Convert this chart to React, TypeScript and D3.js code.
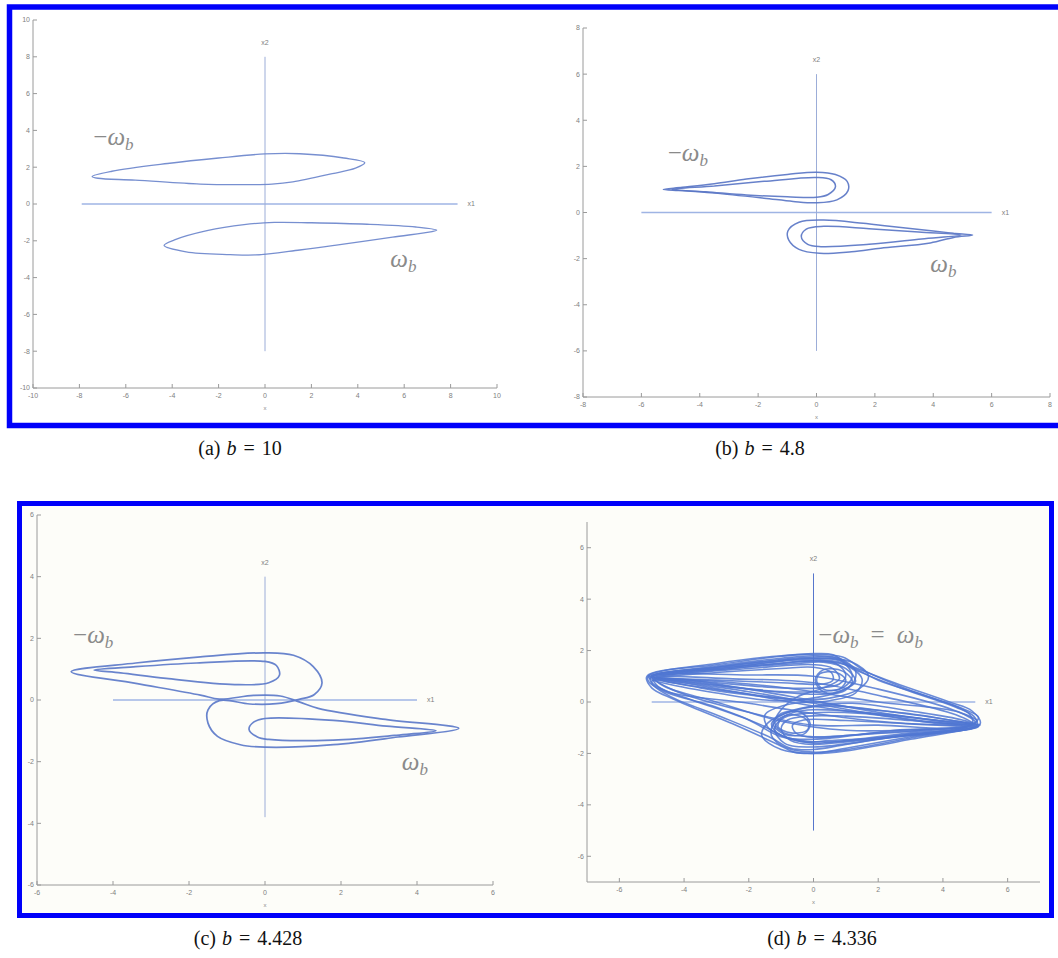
import React from "react";
import * as d3 from "d3";

type Pt = [number, number];

// ---- tick values ----
const ticksA = [-10, -8, -6, -4, -2, 0, 2, 4, 6, 8, 10];
const ticksB = [-8, -6, -4, -2, 0, 2, 4, 6, 8];
const ticksC = [-6, -4, -2, 0, 2, 4, 6];
const ticksD = [-6, -4, -2, 0, 2, 4, 6];

// ---- (a) b = 10 ----
const orbitA_neg: Pt[] = [
  [-7.45, 1.5], [-6.6, 1.78], [-4.2, 2.2], [-2, 2.5], [0, 2.72], [1.5, 2.73], [3.4, 2.5],
  [4.3, 2.25], [3.9, 1.95], [2.9, 1.65], [1.2, 1.2], [0.3, 1.08], [-1, 1.05], [-2.8, 1.08],
  [-5.6, 1.3], [-7.2, 1.4],
];
const orbitA_pos: Pt[] = [
  [7.4, -1.42], [6.5, -1.25], [4.4, -1.1], [2, -1.02], [0.4, -1.0], [-0.9, -1.12], [-2.5, -1.45],
  [-3.9, -1.95], [-4.35, -2.25], [-3.4, -2.6], [-1.5, -2.75], [-0.4, -2.77], [1.5, -2.5],
  [3.0, -2.25], [5.5, -1.8], [7.2, -1.5],
];

// ---- (b) b = 4.8 ----
const orbitB_negOuter: Pt[] = [
  [-5.25, 1.0], [-4.6, 1.09], [-3.5, 1.25], [-2.4, 1.45], [-1, 1.65], [0, 1.75], [0.65, 1.65],
  [1.05, 1.35], [1.08, 0.95], [0.7, 0.55], [0, 0.42], [-0.8, 0.48], [-1.8, 0.62], [-3.5, 0.84],
  [-4.6, 0.95],
];
const orbitB_negInner: Pt[] = [
  [-4.95, 1.0], [-3.5, 1.15], [-1.8, 1.35], [0, 1.52], [0.5, 1.42], [0.65, 1.12], [0.4, 0.78],
  [0, 0.66], [-1, 0.68], [-2.4, 0.76], [-3.8, 0.9],
];
const orbitB_posOuter: Pt[] = [
  [5.35, -0.98], [4.7, -0.9], [4, -0.8], [2.5, -0.6], [1.6, -0.47], [0.25, -0.33], [-0.6, -0.42],
  [-0.98, -0.8], [-0.95, -1.2], [-0.6, -1.6], [0.1, -1.77], [1.2, -1.7], [2.2, -1.55],
  [3.9, -1.32], [4.7, -1.08],
];
const orbitB_posInner: Pt[] = [
  [4.95, -0.98], [3.5, -0.85], [1.8, -0.7], [0.25, -0.6], [-0.35, -0.72], [-0.52, -1.05],
  [-0.3, -1.38], [0.15, -1.48], [1.8, -1.38], [3.6, -1.15],
];

// ---- (c) b = 4.428 ----
const orbitC_outer: Pt[] = [
  [-5.1, 0.92], [-3.4, 1.2], [-1.7, 1.4], [0, 1.53], [0.75, 1.45], [1.27, 1.08], [1.5, 0.55],
  [1.3, 0.18], [0.9, 0.02], [0.3, -0.12], [-0.4, -0.13], [-1.2, -0.02], [-1.5, -0.32],
  [-1.5, -0.75], [-1.25, -1.18], [-0.65, -1.45], [0, -1.53], [1.8, -1.45], [3.5, -1.2],
  [5.1, -0.92], [3.1, -0.62], [1.4, -0.27], [0.9, -0.06], [0.4, 0.13], [-0.3, 0.15],
  [-1.2, 0.03], [-1.7, 0.16], [-3.4, 0.54],
];
const orbitC_negInner: Pt[] = [
  [-4.5, 0.97], [-3.4, 1.08], [-1.8, 1.2], [0, 1.25], [0.3, 1.12], [0.38, 0.8], [0.1, 0.56],
  [-0.8, 0.5], [-2.6, 0.7], [-3.8, 0.88],
];
const orbitC_posInner: Pt[] = [
  [4.5, -1.0], [3.2, -0.85], [1.8, -0.66], [0, -0.6], [-0.3, -0.72], [-0.42, -0.95],
  [-0.2, -1.2], [0.1, -1.28], [1.8, -1.3], [3.4, -1.15],
];

// ---- (d) b = 4.336 (chaotic attractor, traced loop by loop) ----
const attractorD: Pt[][] = [
  [[-5.15, 1.0], [-3, 1.45], [-1, 1.78], [0, 1.88], [0.6, 1.84], [1.1, 1.45], [2.5, 0.75], [4.2, 0.0],
   [4.9, -0.35], [5.15, -0.85], [3, -1.35], [1, -1.8], [0, -2.0], [-0.6, -1.95], [-1.1, -1.65],
   [-2.5, -0.85], [-4.3, 0.1], [-5.0, 0.55]],
  [[-5.05, 0.95], [-3, 1.35], [-1, 1.65], [0, 1.75], [0.7, 1.7], [1.3, 1.25], [2.8, 0.5], [4.4, -0.2],
   [4.95, -0.55], [5.05, -0.9], [3, -1.25], [1, -1.65], [0, -1.85], [-0.7, -1.8], [-1.3, -1.4],
   [-2.8, -0.6], [-4.4, 0.2], [-4.95, 0.65]],
  [[-5.1, 1.02], [-3, 1.5], [-1, 1.8], [0, 1.85], [0.9, 1.75], [1.6, 1.2], [3, 0.45], [4.6, -0.25],
   [5.1, -0.6], [4.8, -0.95], [3, -1.2], [1, -1.5], [0, -1.6], [-0.8, -1.4], [-1.6, -0.9],
   [-3, -0.2], [-4.6, 0.4], [-5.1, 0.8]],
  [[-4.95, 0.98], [-2.5, 1.3], [0, 1.6], [1, 1.45], [2, 0.85], [3.8, 0.1], [4.8, -0.45],
   [4.9, -0.85], [2.5, -1.1], [0, -1.45], [-1, -1.35], [-2, -0.7], [-3.8, 0.1], [-4.8, 0.6]],
  [[-5.1, 1.0], [-3, 1.4], [-1, 1.7], [0, 1.8], [0.8, 1.7], [1.3, 1.2], [1.2, 0.7], [0.6, 0.35],
   [0, 0.3], [-2, 0.5], [-4, 0.8]],
  [[-5.0, 0.98], [-3, 1.3], [-1, 1.5], [0, 1.6], [0.7, 1.5], [1.0, 1.05], [0.8, 0.7], [0.2, 0.55],
   [-1, 0.55], [-3, 0.75], [-4.3, 0.9]],
  [[-4.8, 0.95], [-3, 1.15], [-1, 1.3], [0, 1.35], [0.55, 1.15], [0.6, 0.85], [0.3, 0.7],
   [-1, 0.75], [-3, 0.85]],
  [[-5.05, 0.9], [-3, 1.25], [-0.5, 1.5], [0.3, 1.55], [1.0, 1.3], [1.3, 0.8], [0.9, 0.45],
   [0.2, 0.2], [-1.2, 0.05], [-3, 0.35], [-4.5, 0.7]],
  [[-5.0, 1.0], [-2.5, 1.35], [0, 1.7], [0.9, 1.55], [1.2, 1.0], [0.9, 0.55], [0, 0.4],
   [-1.5, 0.45], [-3.5, 0.75]],
  [[-5.1, 0.95], [-3, 1.35], [-1, 1.62], [0, 1.7], [1.2, 1.55], [1.7, 1.0], [1.4, 0.5],
   [0.5, 0.15], [-0.5, 0.1], [-2.5, 0.4], [-4.2, 0.72]],
  [[5.15, -0.9], [3, -1.4], [1, -1.85], [0, -1.95], [-0.8, -1.8], [-1.3, -1.3], [-1.2, -0.8],
   [-0.6, -0.4], [0, -0.3], [2, -0.45], [4, -0.75]],
  [[5.05, -0.92], [3, -1.3], [1, -1.55], [0, -1.65], [-0.7, -1.5], [-1.0, -1.05], [-0.8, -0.7],
   [-0.2, -0.55], [1, -0.55], [3, -0.72], [4.3, -0.85]],
  [[4.8, -0.95], [3, -1.15], [1, -1.3], [0, -1.38], [-0.55, -1.2], [-0.65, -0.9], [-0.3, -0.7],
   [1, -0.72], [3, -0.85]],
  [[5.1, -0.95], [3, -1.3], [0.5, -1.5], [-0.3, -1.55], [-1.0, -1.3], [-1.3, -0.85], [-0.9, -0.45],
   [-0.2, -0.2], [1.2, -0.05], [3, -0.35], [4.6, -0.7]],
  [[5.0, -0.98], [2.5, -1.35], [0, -1.75], [-0.9, -1.6], [-1.2, -1.05], [-0.9, -0.6], [0, -0.42],
   [1.5, -0.45], [3.5, -0.75]],
  [[5.1, -0.92], [3, -1.45], [1, -1.9], [0, -2.0], [-1, -1.85], [-1.6, -1.3], [-1.4, -0.8],
   [-0.5, -0.3], [0.5, -0.15], [2.5, -0.4], [4.2, -0.7]],
  [[-5.0, 1.0], [-2, 1.45], [0, 1.65], [0.9, 1.5], [1.5, 0.9], [1.3, 0.35], [0.5, 0.05], [-0.8, -0.1],
   [-1.5, -0.5], [-1.4, -1.0], [-0.6, -1.45], [0.5, -1.55], [3, -1.25], [5.0, -0.95], [3.5, -0.55],
   [1.5, -0.25], [0, 0.0], [-1.5, 0.2], [-3.5, 0.55]],
  [[-4.9, 0.95], [-2, 1.3], [0, 1.45], [0.6, 1.3], [0.8, 0.9], [0.3, 0.55], [-0.5, 0.2], [-1.0, -0.3],
   [-1.2, -0.8], [-0.9, -1.2], [0, -1.35], [2, -1.2], [4.9, -0.9], [3, -0.6], [1, -0.35],
   [-0.5, -0.05], [-2, 0.3], [-3.8, 0.7]],
  [[-5.0, 0.95], [-2, 0.7], [0, 0.4], [2, 0.0], [4.5, -0.4], [5.0, -0.8], [4.0, -0.85], [2, -0.5],
   [0, -0.05], [-2, 0.4], [-4.5, 0.85]],
  [[5.0, -0.95], [2, -0.75], [0, -0.45], [-2, -0.05], [-4.5, 0.4], [-5.0, 0.8], [-4.0, 0.85],
   [-2, 0.5], [0, 0.05], [2, -0.4], [4.5, -0.85]],
  [[-5.0, 1.0], [-2, 1.05], [0, 1.0], [2, 0.5], [4.3, -0.3], [5.05, -0.75], [4.5, -1.0], [2, -0.9],
   [0, -0.9], [-2, -0.4], [-4.3, 0.45]],
  [[-4.9, 0.92], [-2.5, 0.9], [0, 0.75], [2.2, 0.2], [4.4, -0.5], [4.95, -0.88], [3.5, -1.05],
   [1, -1.1], [-1, -0.75], [-3, 0.0], [-4.6, 0.6]],
  [[0.2, 1.1], [0.7, 1.15], [1.0, 0.85], [0.8, 0.5], [0.3, 0.5], [0.1, 0.8]],
  [[0.3, 1.25], [0.9, 1.2], [1.2, 0.8], [0.9, 0.4], [0.3, 0.4], [0.05, 0.85]],
  [[-0.2, -1.1], [-0.7, -1.2], [-1.1, -0.95], [-0.9, -0.55], [-0.4, -0.55], [-0.15, -0.8]],
  [[-0.3, -1.25], [-0.9, -1.25], [-1.25, -0.85], [-1.0, -0.45], [-0.4, -0.4], [-0.1, -0.85]],
];

type Label = { x: number; y: number; parts: "neg" | "pos" | "both" };

type PanelSpec = {
  xr: [number, number];
  yr: [number, number];
  xdom: [number, number];
  ydom: [number, number];
  xticks: number[];
  yticks: number[];
  x1span: [number, number];
  x2span: [number, number];
  x2color: string;
  loops: Pt[][];
  stroke: string;
  width: number;
  opacity: number;
  labels: Label[];
};

const panels: PanelSpec[] = [
  {
    xr: [33, 497], yr: [388, 20], xdom: [-10, 10], ydom: [-10, 10],
    xticks: ticksA, yticks: ticksA, x1span: [-7.9, 8.3], x2span: [-8, 8], x2color: "#9cadd8",
    loops: [orbitA_neg, orbitA_pos], stroke: "#6b86cc", width: 1.3, opacity: 0.92,
    labels: [{ x: -7.4, y: 3.2, parts: "neg" }, { x: 5.4, y: -3.45, parts: "pos" }],
  },
  {
    xr: [583, 1050], yr: [397, 28], xdom: [-8, 8], ydom: [-8, 8],
    xticks: ticksB, yticks: ticksB, x1span: [-6, 6], x2span: [-6, 6], x2color: "#9cadd8",
    loops: [orbitB_negOuter, orbitB_negInner, orbitB_posOuter, orbitB_posInner],
    stroke: "#5a76c6", width: 1.5, opacity: 0.92,
    labels: [{ x: -5.1, y: 2.25, parts: "neg" }, { x: 3.9, y: -2.6, parts: "pos" }],
  },
  {
    xr: [37, 493], yr: [885, 515], xdom: [-6, 6], ydom: [-6, 6],
    xticks: ticksC, yticks: ticksC, x1span: [-4, 4], x2span: [-3.8, 4], x2color: "#9cadd8",
    loops: [orbitC_outer, orbitC_negInner, orbitC_posInner], stroke: "#5c79c9", width: 1.7,
    opacity: 0.92,
    labels: [{ x: -5.05, y: 1.85, parts: "neg" }, { x: 3.6, y: -2.27, parts: "pos" }],
  },
  {
    xr: [587, 1040], yr: [882, 522], xdom: [-7, 7], ydom: [-7, 7],
    xticks: ticksD, yticks: ticksD, x1span: [-5, 5], x2span: [-5, 5], x2color: "#5676cc",
    loops: attractorD, stroke: "#5077d2", width: 1.6, opacity: 0.85,
    labels: [{ x: 0.15, y: 2.29, parts: "both" }],
  },
];

const captions = [
  { x: 240, y: 455, tag: "(a)", val: "10" },
  { x: 760, y: 455, tag: "(b)", val: "4.8" },
  { x: 248, y: 945, tag: "(c)", val: "4.428" },
  { x: 822, y: 945, tag: "(d)", val: "4.336" },
];

const tickFont = "Liberation Sans, Arial, sans-serif";
const mathFont = "Liberation Serif, DejaVu Serif, serif";

function MathLabel({ x, y, parts }: { x: number; y: number; parts: Label["parts"] }) {
  const omega = (key: string, dx = 0, dy = 0) => [
    <tspan key={key + "w"} fontStyle="italic" dx={dx} dy={dy}>ω</tspan>,
    <tspan key={key + "b"} fontStyle="italic" fontSize={17} dy={5}>b</tspan>,
  ];
  return (
    <text x={x} y={y} fontFamily={mathFont} fontSize={25} fill="#8a8a8a">
      {parts !== "pos" && <tspan>−</tspan>}
      {omega("a")}
      {parts === "both" && [
        <tspan key="eq" dx={12} dy={-5}>=</tspan>,
        ...omega("c", 12, 0),
      ]}
    </text>
  );
}

function Panel({ p }: { p: PanelSpec }) {
  const x = d3.scaleLinear().domain(p.xdom).range(p.xr);
  const y = d3.scaleLinear().domain(p.ydom).range(p.yr);
  const line = d3
    .line<Pt>()
    .x((d) => x(d[0]))
    .y((d) => y(d[1]))
    .curve(d3.curveCatmullRomClosed.alpha(0.5));
  const ax = p.xr[0];
  const ay = p.yr[0];
  const axisColor = "#9a9a9a";
  const tickFill = "#808080";
  return (
    <g>
      {/* left and bottom axes only, ticks pointing inward */}
      <line x1={ax} y1={p.yr[1]} x2={ax} y2={ay} stroke={axisColor} strokeWidth={1} />
      <line x1={ax} y1={ay} x2={p.xr[1]} y2={ay} stroke={axisColor} strokeWidth={1} />
      {p.yticks.map((t) => (
        <g key={"y" + t}>
          <line x1={ax} x2={ax + 4} y1={y(t)} y2={y(t)} stroke={axisColor} />
          <text x={ax - 3} y={y(t)} dy="0.35em" textAnchor="end" fontSize={7} fontFamily={tickFont} fill={tickFill}>
            {t}
          </text>
        </g>
      ))}
      {p.xticks.map((t) => (
        <g key={"x" + t}>
          <line x1={x(t)} x2={x(t)} y1={ay} y2={ay - 4} stroke={axisColor} />
          <text x={x(t)} y={ay + 10} textAnchor="middle" fontSize={7} fontFamily={tickFont} fill={tickFill}>
            {t}
          </text>
        </g>
      ))}
      <text x={x(0)} y={ay + 22} textAnchor="middle" fontSize={6} fontFamily={tickFont} fill="#8a8a8a">x</text>

      {/* state-space axes x1, x2 */}
      <line x1={x(p.x1span[0])} x2={x(p.x1span[1])} y1={y(0)} y2={y(0)} stroke="#9fb4e4" strokeWidth={1.4} />
      <line x1={x(0)} x2={x(0)} y1={y(p.x2span[1])} y2={y(p.x2span[0])} stroke={p.x2color} strokeWidth={1} />
      <text x={x(p.x1span[1]) + 10} y={y(0)} dy="0.35em" fontSize={7} fontFamily={tickFont} fill={tickFill}>x1</text>
      <text x={x(0)} y={y(p.x2span[1]) - 12} textAnchor="middle" fontSize={7} fontFamily={tickFont} fill={tickFill}>x2</text>

      {p.loops.map((l, i) => (
        <path key={i} d={line(l) || ""} fill="none" stroke={p.stroke} strokeWidth={p.width} strokeOpacity={p.opacity} />
      ))}

      {p.labels.map((l, i) => (
        <MathLabel key={i} x={x(l.x)} y={y(l.y)} parts={l.parts} />
      ))}
    </g>
  );
}

export default function App() {
  return (
    <svg
      width={1058}
      height={958}
      style={{ position: "absolute", left: 0, top: 0, background: "#ffffff" }}
    >
      <rect x={22} y={506} width={1027} height={407} fill="#fdfdf9" />
      {panels.map((p, i) => (
        <Panel key={i} p={p} />
      ))}
      <rect x={9.5} y={7} width={1060} height={418.5} fill="none" stroke="#0000fa" strokeWidth={5.5} />
      <rect x={19.5} y={503.5} width={1032} height={412} fill="none" stroke="#0000fa" strokeWidth={5} />
      {captions.map((c) => (
        <text key={c.tag} x={c.x} y={c.y} textAnchor="middle" fontFamily={mathFont} fontSize={20} fill="#111">
          <tspan>{c.tag}</tspan>
          <tspan dx={6} fontStyle="italic">b</tspan>
          <tspan dx={7}>=</tspan>
          <tspan dx={7}>{c.val}</tspan>
        </text>
      ))}
    </svg>
  );
}
